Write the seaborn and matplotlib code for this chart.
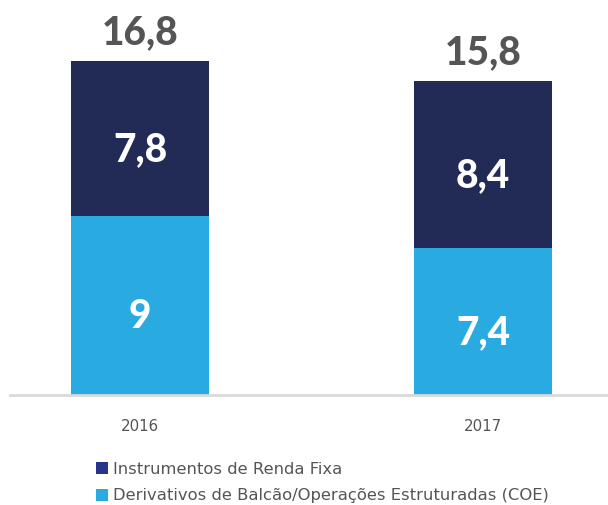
import matplotlib
matplotlib.use("Agg")
import matplotlib.pyplot as plt
import matplotlib.transforms as mtransforms
import seaborn as sns
import pandas as pd
from matplotlib.patches import Patch

years = ["2016", "2017"]
coe = [9.0, 7.4]
renda_fixa = [7.8, 8.4]
series_names = ["Instrumentos de Renda Fixa", "Derivativos de Balcão/Operações Estruturadas (COE)"]
totals = [a + b for a, b in zip(coe, renda_fixa)]

DARK = "#212B55"
LIGHT = "#29ABE2"
LEG_DARK = "#27348B"
GRAY = "#555555"

sns.set_theme(style="white")
plt.rcParams['font.family'] = ['Lato', 'DejaVu Sans']

df = pd.DataFrame({"year": years, "coe": coe, "rf": renda_fixa, "total": totals})

fig = plt.figure(figsize=(6.08, 5.05), dpi=100)
ax = fig.add_axes([10/608, 110/505, 598/608, 395/505])

sns.barplot(data=df, x="year", y="total", color=DARK, width=0.4, saturation=1, ax=ax, linewidth=0)
sns.barplot(data=df, x="year", y="coe", color=LIGHT, width=0.4, saturation=1, ax=ax, linewidth=0)

ax.set_xlim(-0.379, 1.364)
ax.set_ylim(0, 19.85)

def fmt(v):
    s = f"{v:.1f}".replace(".", ",")
    if s.endswith(",0"):
        s = s[:-2]
    return s

down = mtransforms.offset_copy(ax.transData, fig=fig, x=0, y=-8, units="points")
for i in range(len(years)):
    ax.text(i, coe[i] / 2, fmt(coe[i]), ha="center", va="center", color="white",
            fontsize=28, fontweight="black", transform=down)
    ax.text(i, coe[i] + renda_fixa[i] / 2, fmt(renda_fixa[i]), ha="center", va="center",
            color="white", fontsize=28, fontweight="black", transform=down)
    ax.text(i, totals[i] + 0.5, fmt(totals[i]), ha="center", va="bottom", color=GRAY,
            fontsize=28, fontweight="black")

for s in ["top", "right", "left"]:
    ax.spines[s].set_visible(False)
ax.spines["bottom"].set_color("#d9d9d9")
ax.spines["bottom"].set_linewidth(2)
ax.set_yticks([])
ax.set_xlabel("")
ax.set_ylabel("")
ax.tick_params(axis="x", length=0, pad=17, labelcolor=GRAY)
for lbl in ax.get_xticklabels():
    lbl.set_family(["DejaVu Sans"])
    lbl.set_fontsize(10.8)

handles = [Patch(facecolor=LEG_DARK, edgecolor="none"), Patch(facecolor=LIGHT, edgecolor="none")]
leg = fig.legend(handles, series_names, loc="upper left", bbox_to_anchor=(96/608, 43/505),
                 frameon=False, prop={"family": ["DejaVu Sans"], "size": 11.8},
                 handlelength=0.75, handleheight=0.75,
                 handletextpad=0.3, labelspacing=0.7, labelcolor=GRAY, borderaxespad=0, borderpad=0)

fig.savefig("out.png", dpi=100)
